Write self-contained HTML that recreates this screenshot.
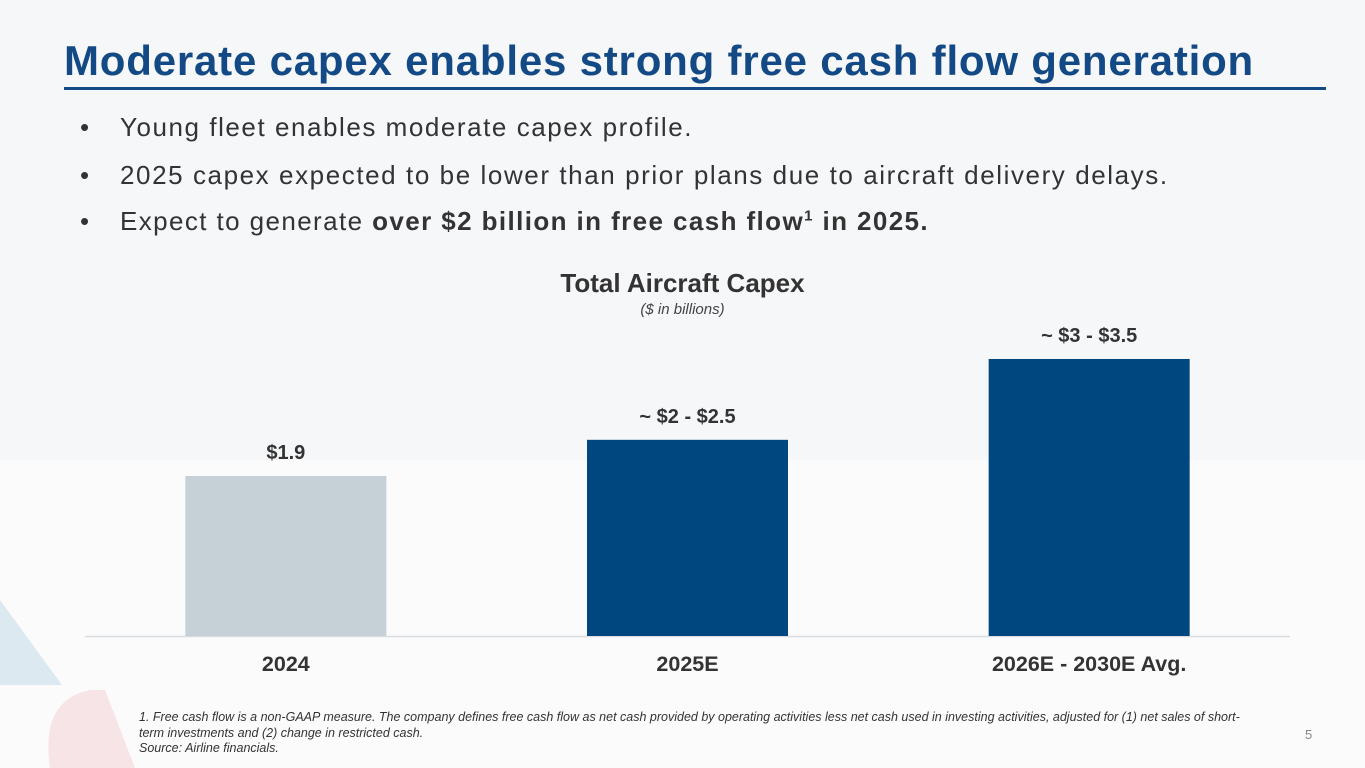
<!DOCTYPE html>
<html><head><meta charset="utf-8"><style>
body{margin:0;width:1365px;height:768px;overflow:hidden;background:#f6f7f9;font-family:"Liberation Sans",sans-serif;position:relative}
.t{position:absolute;white-space:nowrap}
</style></head><body>
<svg style="position:absolute;left:0;top:0" width="1365" height="768">
<rect x="0" y="460" width="1365" height="308" fill="#fbfbfc"/>
<polygon points="0,600 0,685 62,685" fill="#dde9f1"/>
<path d="M50,768 Q40,700 90,690 L105,690 L135,768 Z" fill="#f7e4e6"/>
</svg>
<div class="t" style="left:64px;top:37px;font-size:42px;letter-spacing:0.8px;font-weight:bold;color:#134a85">Moderate capex enables strong free cash flow generation</div>
<div style="position:absolute;left:64px;top:87px;width:1262px;height:3px;background:#134a85"></div>
<div class="t" style="left:80px;top:112px;font-size:26px;color:#333"><span style="display:inline-block;width:40px">•</span><span style="letter-spacing:1.55px">Young fleet enables moderate capex profile.</span></div>
<div class="t" style="left:80px;top:160px;font-size:26px;color:#333"><span style="display:inline-block;width:40px">•</span><span style="letter-spacing:1.58px">2025 capex expected to be lower than prior plans due to aircraft delivery delays.</span></div>
<div class="t" style="left:80px;top:206px;font-size:26px;color:#333"><span style="display:inline-block;width:40px">•</span><span style="letter-spacing:1.4px">Expect to generate <b>over $2 billion in free cash flow<sup style="font-size:15px">1</sup> in 2025.</b></span></div>
<div class="t" style="left:0;width:1365px;text-align:center;top:268px;font-size:26px;font-weight:bold;color:#333">Total Aircraft Capex</div>
<div class="t" style="left:0;width:1365px;text-align:center;top:301px;font-size:15px;font-style:italic;color:#444">($ in billions)</div>
<svg id="chart" style="position:absolute;left:0;top:0" width="1365" height="768"></svg>
<div class="t" style="left:139px;top:710px;font-size:12.5px;font-style:italic;color:#333;line-height:15.5px">1. Free cash flow is a non-GAAP measure. The company defines free cash flow as net cash provided by operating activities less net cash used in investing activities, adjusted for (1) net sales of short-<br>term investments and (2) change in restricted cash.<br>Source: Airline financials.</div>
<div class="t" style="left:1305px;top:727px;font-size:13px;color:#888">5</div>
<script>
const categories=["2024","2025E","2026E - 2030E Avg."];
const values=[1.9,2.33,3.29];
const labels=["$1.9","~ $2 - $2.5","~ $3 - $3.5"];
const colors=["#c5d0d7","#00467f","#00467f"];
const svg=document.getElementById('chart');
const NS="http://www.w3.org/2000/svg";
const base=636,scale=84.2,x0=85,x1=1290,bw=201;
function xc(i){return x0+(x1-x0)*(i+0.5)/categories.length;}
function y(v){return base-v*scale;}
const ax=document.createElementNS(NS,'line');


ax.setAttribute('x1',x0);ax.setAttribute('x2',x1);ax.setAttribute('y1',base+0.5);ax.setAttribute('y2',base+0.5);ax.setAttribute('stroke','#d9dde1');ax.setAttribute('stroke-width','1.5');
svg.appendChild(ax);
categories.forEach((c,i)=>{
 const r=document.createElementNS(NS,'rect');
 
 
 r.setAttribute('x',xc(i)-bw/2);r.setAttribute('y',y(values[i]));r.setAttribute('width',bw);r.setAttribute('height',base-y(values[i]));r.setAttribute('fill',colors[i]);
 svg.appendChild(r);
 const t=document.createElementNS(NS,'text');
 
 
 t.setAttribute('x',xc(i));t.setAttribute('y',y(values[i])-17);t.setAttribute('text-anchor','middle');t.setAttribute('font-size','20');t.setAttribute('font-weight','bold');t.setAttribute('fill','#333');t.setAttribute('font-family','Liberation Sans');
 t.textContent=labels[i];svg.appendChild(t);
 const l=document.createElementNS(NS,'text');
 
 
 l.setAttribute('x',xc(i));l.setAttribute('y',671);l.setAttribute('text-anchor','middle');l.setAttribute('font-size','21.5');l.setAttribute('font-weight','bold');l.setAttribute('fill','#333');l.setAttribute('font-family','Liberation Sans');
 l.textContent=c;svg.appendChild(l);
});
</script>
</body></html>
